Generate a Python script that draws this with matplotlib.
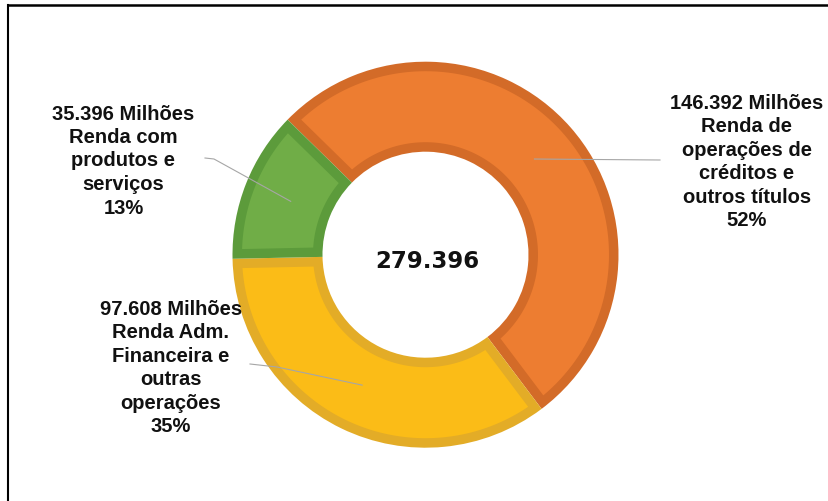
import matplotlib
matplotlib.use('Agg')
import matplotlib.pyplot as plt
import numpy as np

# values in millions (pt-BR thousands separator is '.')
values = [146392, 97608, 35396]
names = ['Renda de\noperações de\ncréditos e\noutros títulos',
         'Renda Adm.\nFinanceira e\noutras\noperações',
         'Renda com\nprodutos e\nserviços']
fills = ['#ED7D31', '#FBBC17', '#70AD47']
edges = ['#D36B28', '#E3AC27', '#5C9B3B']

W, H = 829, 502


def fmt(v):
    return f"{v:,}".replace(',', '.')


def Y(y):
    # image row -> data y (y up)
    return H - y


fig = plt.figure(figsize=(W / 100, H / 100), dpi=100)
ax = fig.add_axes([0, 0, 1, 1])

cx, cy = 425.5, Y(255.7)
r_out, r_in = 193, 103
rim = 9.5  # darker rim inside each slice, px

# full slices in the rim colour
wedges, _ = ax.pie(values, colors=edges, startangle=135.6, counterclock=False,
                   radius=r_out, center=(cx, cy),
                   wedgeprops=dict(width=r_out - r_in, linewidth=0))

# lighter inner part, inset by the rim width on every side
for w, fc in zip(wedges, fills):
    t1, t2 = np.deg2rad(w.theta1), np.deg2rad(w.theta2)
    R, rho = r_out - rim, r_in + rim
    a = np.linspace(t1 + np.arcsin(rim / R), t2 - np.arcsin(rim / R), 100)
    b = np.linspace(t2 - np.arcsin(rim / rho), t1 + np.arcsin(rim / rho), 100)
    xs = np.r_[cx + R * np.cos(a), cx + rho * np.cos(b)]
    ys = np.r_[cy + R * np.sin(a), cy + rho * np.sin(b)]
    ax.fill(xs, ys, color=fc, lw=0)

ax.set_xlim(0, W)
ax.set_ylim(0, H)
ax.set_aspect('equal')
ax.axis('off')

total = sum(values)
ax.text(cx + 2, Y(261), fmt(total), ha='center', va='center',
        fontsize=16.5, fontweight='bold', family='DejaVu Sans', color='#111111')

# label positions (image coords) and leader line start points
label_xy = [(747, 162), (171, 368), (123.5, 161)]
leader_start = [[(660, 161)], [(250, 365), (277, 368)], [(205, 159), (214, 160)]]

r_mid = (r_out + r_in) / 2 - 3
for w, v, name, (lx, ly), pts in zip(wedges, values, names, label_xy, leader_start):
    mid = np.deg2rad((w.theta1 + w.theta2) / 2)
    ax_, ay_ = cx + r_mid * np.cos(mid), cy + r_mid * np.sin(mid)
    xs = [p[0] for p in pts] + [ax_]
    ys = [Y(p[1]) for p in pts] + [ay_]
    ax.plot(xs, ys, color='#A6A6A6', lw=0.8)
    pct = round(v / total * 100)
    ax.text(lx, Y(ly), f"{fmt(v)} Milhões\n{name}\n{pct}%", ha='center', va='center',
            multialignment='center', fontsize=14.5, fontweight='bold',
            family='Liberation Sans', linespacing=1.3, color='#111111')

# frame lines of the original slide
fig.add_artist(plt.Line2D([8 / W, 1], [1 - 6 / H, 1 - 6 / H], color='black', lw=1.8))
fig.add_artist(plt.Line2D([8 / W, 8 / W], [0, 1 - 6 / H], color='black', lw=1.5))

fig.savefig('out.png', dpi=100)
